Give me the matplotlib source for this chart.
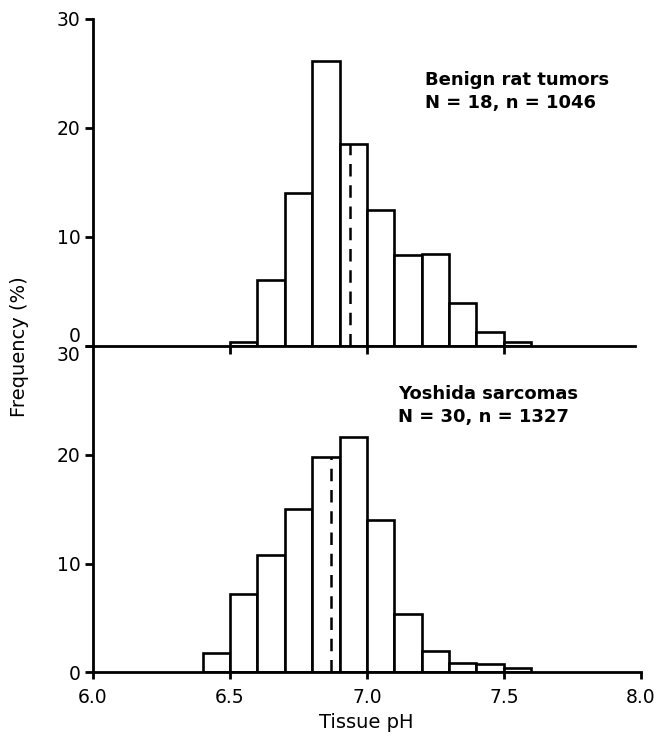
import numpy as np
import matplotlib.pyplot as plt

plt.rcParams['font.family'] = ['DejaVu Sans']
plt.rcParams['font.size'] = 13.

# bin left edges (pH), bin width 0.1
benign_bins = [6.5, 6.6, 6.7, 6.8, 6.9, 7.0, 7.1, 7.2, 7.3, 7.4, 7.5]
benign_freq = [0.3, 6.0, 14.0, 26.1, 18.5, 12.5, 8.3, 8.4, 3.9, 1.3, 0.3]
benign_mean = 6.94

yoshida_bins = [6.4, 6.5, 6.6, 6.7, 6.8, 6.9, 7.0, 7.1, 7.2, 7.3, 7.4, 7.5]
yoshida_freq = [1.75, 7.2, 10.8, 15.0, 19.8, 21.6, 14.0, 5.4, 2.0, 0.9, 0.8, 0.4]
yoshida_mean = 6.87

bin_width = 0.1
xticks = [6.0, 6.5, 7.0, 7.5, 8.0]
yticks = [0, 10, 20, 30]

fig = plt.figure(figsize=(6.56, 7.36), dpi=100)
ax1 = fig.add_axes([0.1418, 0.5303, 0.835, 0.4439])
ax2 = fig.add_axes([0.1418, 0.0865, 0.835, 0.4433])


def mean_height(bins, freq, m):
    for b, f in zip(bins, freq):
        if b <= m < b + bin_width:
            return f
    return 0


for ax, bins, freq, mean in [(ax1, benign_bins, benign_freq, benign_mean),
                             (ax2, yoshida_bins, yoshida_freq, yoshida_mean)]:
    ax.bar(bins, freq, width=bin_width, align='edge', facecolor='white',
           edgecolor='black', linewidth=1.9, zorder=2)
    ax.plot([mean, mean], [0, mean_height(bins, freq, mean)], color='black',
            linewidth=1.8, dashes=(5, 3.5), zorder=3)
    ax.set_xlim(6.0, 8.0)
    ax.set_ylim(0, 30)
    ax.spines['top'].set_visible(False)
    ax.spines['right'].set_visible(False)
    ax.spines['left'].set_linewidth(2.0)
    ax.spines['bottom'].set_linewidth(2.0)
    ax.spines['left'].set_zorder(4)
    ax.spines['bottom'].set_zorder(4)
    ax.set_yticks(yticks)
    ax.tick_params(axis='y', direction='out', length=6, width=2.0, pad=3,
                   labelsize=13.5)
    ax.tick_params(axis='x', direction='out', length=5, width=2.0, pad=6,
                   labelsize=13.5)
    ax.patch.set_visible(False)

# top panel: ticks on baseline but no labels
ax1.set_xticks([6.5, 7.0, 7.5])
ax1.tick_params(axis='x', labelbottom=False, length=6)
ax1.spines['bottom'].set_bounds(6.0, 7.98)
ax2.set_xticks(xticks)
ax2.set_xticklabels(['%.1f' % t for t in xticks])

# stacked "0" / "30" labels where the panels meet
fig.canvas.draw()
for lab in ax1.get_yticklabels():
    if lab.get_text() == '0':
        lab.set_va('bottom')
for lab in ax2.get_yticklabels():
    if lab.get_text() == '30':
        lab.set_va('top')

ax1.text(7.213, 21.8, 'Benign rat tumors\nN = 18, n = 1046', fontsize=13,
         fontweight='bold', ha='left', va='baseline', linespacing=1.35)
ax2.text(7.114, 23.05, 'Yoshida sarcomas\nN = 30, n = 1327', fontsize=13,
         fontweight='bold', ha='left', va='baseline', linespacing=1.35)

fig.text(19.5 / 656, 1 - 347 / 736, 'Frequency (%)', rotation=90,
         ha='center', va='center', fontsize=14)
fig.text(366 / 656, 1 - 722 / 736, 'Tissue pH', ha='center', va='center',
         fontsize=14)

fig.savefig('out.png', dpi=100, facecolor='white')
